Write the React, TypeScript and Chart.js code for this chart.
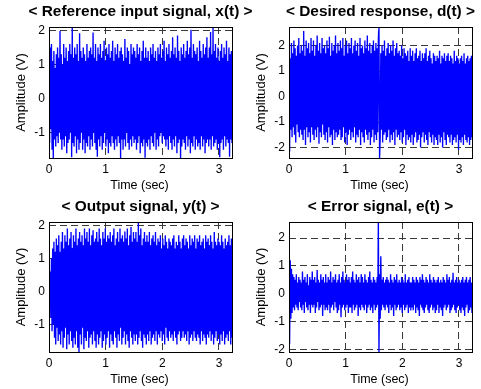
import React, { useEffect, useRef } from "react";
import { Chart, registerables } from "chart.js";

Chart.register(...registerables);

// ---- data ----
const DURATION_SEC = 3.23;
const X_TICK_STEP = 1;
const Y_TICK_STEP = 1;

const referenceInput = [
  1.2,-1.3,1.5,-0.9,1.6,-1.5,1.1,-1.74,1.4,-1.2,0.9,-1.4,1.3,-1.1,1.5,-1.3,1.2,-1.0,1.98,-1.2,
  1.3,-1.5,1.0,-1.2,1.6,-1.4,1.2,-1.1,1.5,-1.6,1.1,-1.3,1.4,-1.2,1.6,-1.0,1.3,-1.72,2.1,-1.3,
  1.2,-1.4,1.5,-1.1,1.3,-1.6,1.6,-1.2,1.1,-1.5,1.92,-1.3,1.4,-1.0,1.2,-1.5,1.5,-1.2,1.3,-1.6,
  1.1,-1.3,1.6,-1.4,1.2,-1.1,1.4,-1.5,1.5,-1.2,1.3,-1.4,1.94,-1.0,1.2,-1.3,1.6,-1.5,1.1,-1.7,
  1.5,-1.2,1.3,-1.4,1.6,-1.1,1.2,-1.5,1.4,-1.3,1.7,-1.0,1.1,-1.4,1.5,-1.2,1.3,-1.6,1.6,-1.3,
  1.2,-1.4,1.4,-1.1,1.7,-1.3,1.1,-1.5,1.5,-1.2,1.3,-1.4,1.6,-1.1,1.2,-1.3,1.4,-1.74,1.5,-1.2,
  1.3,-1.5,1.1,-1.2,1.75,-1.4,1.2,-1.0,1.5,-1.3,1.4,-1.5,1.0,-1.2,1.6,-1.4,1.3,-1.1,1.5,-1.3,
  1.4,-1.2,1.2,-1.5,1.6,-1.3,1.3,-1.1,1.5,-1.6,1.1,-1.3,1.4,-1.4,1.7,-1.2,1.2,-1.73,1.5,-1.3,
  1.2,-1.4,1.4,-1.2,1.1,-1.5,1.5,-1.1,1.3,-1.3,1.6,-1.4,1.2,-1.0,1.4,-1.5,1.1,-1.2,1.5,-1.4,
  1.3,-1.1,1.6,-1.0,1.2,-1.3,1.4,-1.1,1.7,-1.2,1.1,-1.4,1.5,-1.2,1.3,-1.5,1.6,-1.1,1.2,-1.3,
  1.4,-1.5,1.8,-1.2,1.3,-1.4,1.5,-1.1,1.2,-1.6,1.85,-1.3,1.4,-1.2,1.1,-1.74,1.5,-1.4,1.3,-1.2,
  1.6,-1.3,1.2,-1.5,1.4,-1.1,1.7,-1.4,1.3,-1.2,1.5,-1.6,2.02,-1.3,1.2,-1.4,1.6,-1.1,1.4,-1.5,
  1.3,-1.2,1.5,-1.4,1.1,-1.3,1.7,-1.5,1.4,-1.1,1.2,-1.4,1.6,-1.2,1.3,-1.6,1.5,-1.3,1.8,-1.2,
  1.2,-1.4,1.5,-1.2,1.95,-1.5,1.3,-1.1,2.08,-1.4,1.4,-1.3,1.6,-1.2,1.2,-1.5,1.5,-1.3,1.1,-1.72,
  1.4,-1.3,1.6,-1.2,1.2,-1.5,1.5,-1.1,1.3,-1.4,1.7,-1.2,1.1,-1.3,1.5,-1.7,1.3,-1.2,1.4,-1.3,
];

const desiredResponse = [
  1.8,-2.16,1.5,-1.3,2.1,-1.6,1.7,-1.2,2.2,-1.5,1.9,-1.8,1.6,-1.1,2.0,-1.4,2.3,-1.6,1.7,-1.3,
  2.0,-1.5,1.8,-1.7,2.57,-1.3,1.6,-1.9,2.2,-1.2,1.9,-1.6,2.1,-1.4,1.7,-1.8,2.3,-1.2,1.8,-1.5,
  2.2,-1.7,1.6,-1.3,2.0,-1.6,2.4,-1.2,1.8,-1.85,2.1,-1.4,1.7,-1.6,2.3,-1.1,1.9,-1.5,2.0,-1.7,
  1.7,-1.4,2.2,-1.8,1.9,-1.2,2.35,-1.6,1.6,-1.5,2.1,-1.9,1.8,-1.3,2.0,-1.7,2.4,-1.4,1.7,-1.6,
  2.1,-1.5,1.8,-1.3,2.2,-1.7,1.9,-1.6,2.3,-1.2,1.6,-1.8,2.0,-1.4,2.2,-1.9,1.7,-1.5,2.1,-1.3,
  1.9,-1.7,2.3,-1.4,1.7,-1.6,2.0,-1.2,2.2,-1.8,1.8,-1.5,2.1,-1.6,1.6,-1.3,2.3,-1.9,1.9,-1.4,
  2.0,-1.6,1.7,-1.8,2.2,-1.3,1.9,-1.5,2.4,-1.7,1.8,-1.4,2.1,-1.9,1.7,-1.6,2.0,-1.3,2.2,-1.8,
  1.8,-1.5,2.1,-1.7,1.9,-1.4,2.2,2.73,-2.41,-1.6,1.7,-1.3,2.0,-1.8,1.8,-1.5,2.2,-1.4,1.6,-1.7,
  1.9,-1.6,2.1,-1.3,1.7,-1.8,2.0,-1.5,1.8,-1.7,2.2,-1.4,1.6,-1.9,1.9,-1.3,2.1,-1.6,1.7,-1.5,
  1.8,-1.7,1.6,-1.4,2.0,-1.8,1.5,-1.6,1.9,-1.3,1.7,-1.9,1.6,-1.5,1.8,-1.7,1.4,-1.6,1.9,-1.8,
  1.6,-1.5,1.8,-1.9,1.4,-1.6,1.7,-1.4,1.9,-1.8,1.5,-1.7,1.6,-1.5,1.8,-2.0,1.4,-1.6,1.7,-1.4,
  1.5,-1.8,1.7,-1.5,1.9,-1.7,1.4,-1.9,1.6,-1.4,1.8,-1.6,1.5,-1.8,1.3,-1.5,1.7,-1.9,1.6,-1.6,
  1.4,-1.7,1.6,-1.9,1.5,-1.5,1.8,-1.8,1.3,-1.6,1.6,-2.0,1.5,-1.4,1.7,-1.7,1.4,-1.9,1.6,-1.5,
  1.7,-1.6,1.4,-1.8,1.6,-1.5,1.5,-1.9,1.3,-1.7,1.8,-1.6,1.4,-1.8,1.6,-1.5,1.5,-2.1,1.3,-1.7,
  1.5,-1.8,1.6,-1.6,1.4,-1.9,1.7,-1.5,1.3,-1.7,1.5,-1.8,1.6,-1.6,1.4,-1.9,1.5,-1.7,1.6,-1.6,
];

const outputSignal = [
  0.3,-0.4,0.6,-0.8,1.0,-1.2,1.3,-1.0,1.5,-1.4,1.2,-1.6,1.6,-1.1,1.4,-1.5,1.7,-1.3,1.2,-1.6,
  1.5,-1.2,1.8,-1.7,1.3,-1.4,1.7,-1.1,1.5,-1.75,1.9,-1.3,1.4,-1.6,1.6,-1.2,1.8,-1.5,1.3,-1.7,
  1.7,-1.4,1.5,-1.6,1.9,-1.2,1.4,-1.7,1.6,-1.83,1.8,-1.3,1.5,-1.6,1.7,-1.1,1.4,-1.75,1.9,-1.4,
  1.6,-1.5,1.8,-1.2,1.5,-1.7,1.9,-1.4,1.4,-1.3,1.7,-1.6,1.85,-1.2,1.5,-1.5,1.6,-1.7,1.8,-1.3,
  1.5,-1.6,1.9,-1.4,1.6,-1.2,1.4,-1.7,1.8,-1.5,1.6,-1.3,1.9,-1.6,1.5,-1.4,1.7,-1.2,1.6,-1.7,
  1.8,-1.3,1.5,-1.5,1.7,-1.6,1.9,-1.2,1.4,-1.4,1.6,-1.7,1.8,-1.3,1.5,-1.5,1.9,-1.1,1.6,-1.6,
  1.7,-1.4,1.5,-1.2,1.8,-1.6,1.6,-1.3,1.9,-1.5,1.4,-1.7,1.7,-1.2,1.95,-1.4,1.5,-1.6,1.8,-1.3,
  1.6,-1.5,1.8,-1.3,1.5,-1.6,2.1,-1.4,1.7,-1.2,1.9,-1.5,1.4,-1.7,1.6,-1.3,1.8,-1.4,1.5,-1.6,
  1.7,-1.3,1.5,-1.5,1.8,-1.2,1.4,-1.6,1.6,-1.4,1.7,-1.3,1.5,-1.5,1.8,-1.2,1.4,-1.6,1.6,-1.3,
  1.5,-1.4,1.7,-1.2,1.3,-1.5,1.6,-1.3,1.4,-1.6,1.7,-1.1,1.5,-1.4,1.3,-1.5,1.6,-1.2,1.5,-1.4,
  1.4,-1.3,1.6,-1.5,1.7,-1.2,1.3,-1.4,1.5,-1.6,1.4,-1.3,1.7,-1.2,1.5,-1.5,1.3,-1.4,1.6,-1.2,
  1.7,-1.4,1.4,-1.3,1.6,-1.5,1.5,-1.2,1.3,-1.6,1.7,-1.4,1.4,-1.3,1.6,-1.5,1.5,-1.2,1.7,-1.4,
  1.3,-1.5,1.6,-1.3,1.5,-1.4,1.7,-1.6,1.4,-1.2,1.5,-1.5,1.6,-1.3,1.3,-1.4,1.7,-1.6,1.5,-1.3,
  1.6,-1.4,1.4,-1.2,1.7,-1.5,1.5,-1.3,1.3,-1.6,1.8,-1.4,1.5,-1.2,1.4,-1.5,1.6,-1.3,1.5,-1.6,
  1.4,-1.3,1.7,-1.5,1.5,-1.2,1.3,-1.6,1.6,-1.4,1.4,-1.3,1.5,-1.5,1.7,-1.2,1.4,-1.6,1.6,-1.4,
];

const errorSignal = [
  1.5,-1.8,1.2,-0.9,0.9,-0.7,0.7,-0.5,0.6,-0.6,0.5,-0.4,0.7,-0.5,0.4,-0.6,0.6,-0.3,0.5,-0.5,
  0.4,-0.6,0.8,-0.4,0.5,-0.7,0.6,-0.3,0.4,-0.5,0.7,-0.6,0.3,-0.4,0.6,-0.7,0.5,-0.4,0.8,-0.5,
  0.5,-0.4,0.6,-0.7,0.4,-0.5,0.85,-0.3,0.5,-0.6,0.4,-0.5,0.7,-0.4,0.5,-0.8,0.6,-0.4,0.4,-0.6,
  0.7,-0.5,0.4,-0.6,0.6,-0.4,0.5,-0.7,0.8,-0.5,0.4,-0.4,0.6,-0.6,0.5,-0.3,0.7,-0.5,0.4,-0.7,
  0.5,-0.6,0.7,-0.4,0.4,-0.85,0.6,-0.5,0.8,-0.4,0.5,-0.6,0.4,-0.5,0.7,-0.4,0.5,-0.7,0.6,-0.5,
  0.4,-0.5,0.6,-0.7,0.8,-0.4,0.5,-0.6,0.4,-0.5,0.7,-0.4,0.5,-0.8,0.6,-0.5,0.4,-0.6,0.7,-0.4,
  0.6,-0.5,0.4,-0.6,0.7,-0.4,0.5,-0.7,0.4,-0.5,0.6,-0.4,0.8,-0.6,0.5,-0.5,0.4,-0.7,0.6,-0.4,
  0.5,-0.6,0.4,-0.5,0.6,-0.4,2.58,-2.1,0.7,-0.9,1.35,-0.6,0.5,-0.4,0.6,-0.5,0.4,-0.6,0.5,-0.4,
  0.6,-0.5,0.5,-0.7,0.4,-0.4,0.7,-0.6,0.5,-0.5,0.4,-0.8,0.6,-0.4,0.5,-0.6,0.7,-0.5,0.4,-0.4,
  0.5,-0.6,0.4,-0.5,0.6,-0.7,0.5,-0.4,0.4,-0.6,0.7,-0.5,0.4,-0.4,0.5,-0.7,0.6,-0.5,0.4,-0.6,
  0.4,-0.5,0.6,-0.6,0.5,-0.4,0.4,-0.7,0.6,-0.5,0.5,-0.6,0.4,-0.8,0.6,-0.4,0.5,-0.5,0.7,-0.6,
  0.5,-0.7,0.4,-0.5,0.6,-0.4,0.5,-0.6,0.4,-0.7,0.7,-0.5,0.5,-0.4,0.4,-0.6,0.6,-0.5,0.5,-0.7,
  0.4,-0.6,0.5,-0.4,0.6,-0.7,0.4,-0.5,0.5,-0.6,0.4,-0.8,0.6,-0.5,0.5,-0.4,0.4,-0.6,0.7,-0.5,
  0.5,-0.4,0.6,-0.7,0.4,-0.6,0.5,-0.5,0.75,-0.4,0.4,-0.6,0.5,-0.7,0.6,-0.5,0.4,-0.4,0.5,-0.6,
  0.4,-0.7,0.5,-0.5,0.6,-0.6,0.4,-0.8,0.5,-0.5,0.6,-0.4,0.4,-0.7,0.5,-0.6,0.6,-0.5,0.4,-0.7,
];

const panelTitles = [
  "< Reference input signal, x(t) >",
  "< Desired response, d(t) >",
  "< Output signal, y(t) >",
  "< Error signal, e(t) >",
];
const X_LABEL = "Time (sec)";
const Y_LABEL = "Amplitude (V)";
const panelSeries = [referenceInput, desiredResponse, outputSignal, errorSignal];

// ---- layout (page pixels) ----
const PAGE_W = 481;
const PAGE_H = 389;
const FONT = "'Liberation Sans', Arial, Helvetica, sans-serif";
const Y_AXIS_W = 49;
const X_AXIS_H = 37;
// plot-area edges of each subplot
const PLOT_AREAS = [
  { left: 49, right: 232, top: 27, bottom: 158 },
  { left: 289, right: 472, top: 27, bottom: 158 },
  { left: 49, right: 232, top: 222, bottom: 352 },
  { left: 289, right: 472, top: 222, bottom: 352 },
];

const framePlugin = {
  id: "matlabFrame",
  afterDraw(chart: any, _args: any, opts: any) {
    const { ctx, chartArea: a } = chart;
    ctx.save();
    ctx.setLineDash([]);
    ctx.strokeStyle = "#000";
    ctx.lineWidth = 1;
    ctx.strokeRect(a.left + 0.5, a.top + 0.5, a.right - a.left, a.bottom - a.top);
    const cx = (a.left + a.right) / 2;
    const cy = (a.top + a.bottom) / 2;
    ctx.fillStyle = "#000";
    ctx.textAlign = "center";
    ctx.textBaseline = "alphabetic";
    ctx.font = `bold 15.4px ${FONT}`;
    ctx.fillText(opts.title, cx, a.top - 11);
    ctx.font = `12.5px ${FONT}`;
    ctx.fillText(opts.xLabel, cx - 1, a.bottom + 30.5);
    ctx.translate(a.left - 24.5, cy);
    ctx.rotate(-Math.PI / 2);
    ctx.font = `13px ${FONT}`;
    ctx.fillText(opts.yLabel, 0, 0);
    ctx.restore();
  },
};

function Panel({ index }: { index: number }) {
  const ref = useRef<HTMLCanvasElement | null>(null);
  useEffect(() => {
    const area = PLOT_AREAS[index];
    const values = panelSeries[index];
    const n = values.length;
    const points = values.map((v, i) => ({ x: (i * DURATION_SEC) / (n - 1), y: v }));
    const yMin = Math.min(...values);
    const yMax = Math.max(...values);
    const gridOpts = { color: "#3a3a3a", lineWidth: 1, drawTicks: false };
    const borderOpts = { display: false, dash: [7, 4] };
    const tickFont = { family: FONT, size: 12 };
    const chart = new Chart(ref.current as HTMLCanvasElement, {
      type: "line",
      data: {
        datasets: [
          {
            data: points,
            borderColor: "#0000ff",
            borderWidth: 1.35,
            borderJoinStyle: "bevel",
            pointRadius: 0,
            pointHitRadius: 0,
            tension: 0.0001,
            fill: false,
          },
        ],
      },
      options: {
        animation: false,
        responsive: false,
        events: [],
        layout: {
          padding: {
            left: area.left - Y_AXIS_W,
            top: area.top,
            right: PAGE_W - area.right,
            bottom: PAGE_H - area.bottom - X_AXIS_H,
          },
        },
        plugins: {
          legend: { display: false },
          tooltip: { enabled: false },
          title: { display: false },
          matlabFrame: { title: panelTitles[index], xLabel: X_LABEL, yLabel: Y_LABEL },
        } as any,
        scales: {
          x: {
            type: "linear",
            min: 0,
            max: DURATION_SEC,
            grid: gridOpts,
            border: borderOpts,
            ticks: {
              stepSize: X_TICK_STEP,
              includeBounds: false,
              autoSkip: false,
              maxRotation: 0,
              padding: 4,
              color: "#000",
              font: tickFont,
            },
            afterFit: (s: any) => {
              s.height = X_AXIS_H;
            },
          },
          y: {
            type: "linear",
            min: yMin,
            max: yMax,
            grid: gridOpts,
            border: borderOpts,
            ticks: {
              stepSize: Y_TICK_STEP,
              includeBounds: false,
              autoSkip: false,
              padding: 4,
              color: "#000",
              font: tickFont,
            },
            afterFit: (s: any) => {
              s.width = Y_AXIS_W;
            },
          },
        },
      } as any,
      plugins: [framePlugin],
    });
    return () => chart.destroy();
  }, [index]);
  return (
    <canvas
      ref={ref}
      width={PAGE_W}
      height={PAGE_H}
      style={{ position: "absolute", left: 0, top: 0, width: PAGE_W, height: PAGE_H }}
    />
  );
}

export default function App() {
  return (
    <div style={{ position: "fixed", left: 0, top: 0, width: PAGE_W, height: PAGE_H, background: "#fff" }}>
      {panelSeries.map((_, i) => (
        <Panel key={i} index={i} />
      ))}
    </div>
  );
}
